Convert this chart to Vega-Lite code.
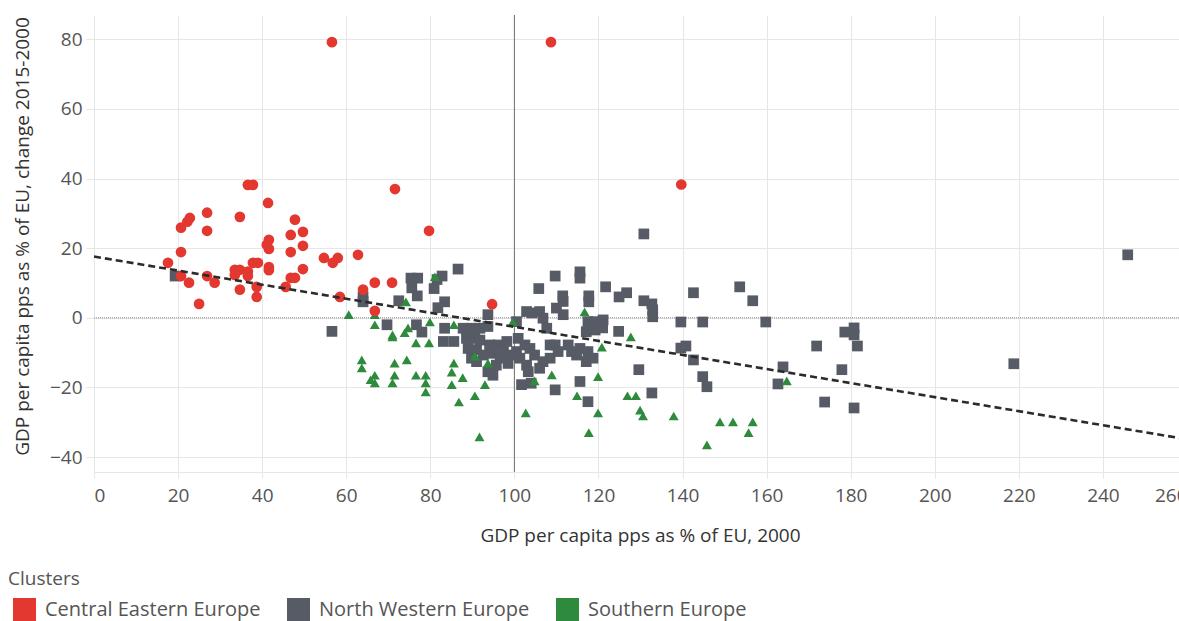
{
  "$schema": "https://vega.github.io/schema/vega-lite/v6.json",
  "width": 1085,
  "height": 457,
  "autosize": {"type": "none"},
  "padding": {"left": 94, "top": 15, "right": 0, "bottom": 149},
  "background": "white",
  "config": {
    "font": "Open Sans",
    "view": {"stroke": null}
  },
  "datasets": {
    "points": [
      {"cluster": "Central Eastern Europe", "gdp2000": 17.6, "change": 15.8},
      {"cluster": "Central Eastern Europe", "gdp2000": 20.7, "change": 25.9},
      {"cluster": "Central Eastern Europe", "gdp2000": 20.7, "change": 18.9},
      {"cluster": "Central Eastern Europe", "gdp2000": 20.7, "change": 12.0},
      {"cluster": "Central Eastern Europe", "gdp2000": 22.2, "change": 27.6},
      {"cluster": "Central Eastern Europe", "gdp2000": 22.8, "change": 28.7},
      {"cluster": "Central Eastern Europe", "gdp2000": 22.6, "change": 10.1},
      {"cluster": "Central Eastern Europe", "gdp2000": 25.0, "change": 4.0},
      {"cluster": "Central Eastern Europe", "gdp2000": 26.9, "change": 30.2},
      {"cluster": "Central Eastern Europe", "gdp2000": 26.9, "change": 25.0},
      {"cluster": "Central Eastern Europe", "gdp2000": 26.9, "change": 12.0},
      {"cluster": "Central Eastern Europe", "gdp2000": 28.7, "change": 10.1},
      {"cluster": "Central Eastern Europe", "gdp2000": 34.7, "change": 29.0},
      {"cluster": "Central Eastern Europe", "gdp2000": 33.5, "change": 13.8},
      {"cluster": "Central Eastern Europe", "gdp2000": 34.7, "change": 13.8},
      {"cluster": "Central Eastern Europe", "gdp2000": 33.5, "change": 12.3},
      {"cluster": "Central Eastern Europe", "gdp2000": 36.6, "change": 13.3},
      {"cluster": "Central Eastern Europe", "gdp2000": 36.6, "change": 12.0},
      {"cluster": "Central Eastern Europe", "gdp2000": 34.7, "change": 8.1},
      {"cluster": "Central Eastern Europe", "gdp2000": 36.6, "change": 38.2},
      {"cluster": "Central Eastern Europe", "gdp2000": 37.8, "change": 38.2},
      {"cluster": "Central Eastern Europe", "gdp2000": 37.8, "change": 15.8},
      {"cluster": "Central Eastern Europe", "gdp2000": 39.0, "change": 15.8},
      {"cluster": "Central Eastern Europe", "gdp2000": 38.7, "change": 8.9},
      {"cluster": "Central Eastern Europe", "gdp2000": 38.7, "change": 6.0},
      {"cluster": "Central Eastern Europe", "gdp2000": 41.4, "change": 33.0},
      {"cluster": "Central Eastern Europe", "gdp2000": 41.1, "change": 21.0},
      {"cluster": "Central Eastern Europe", "gdp2000": 41.6, "change": 22.4},
      {"cluster": "Central Eastern Europe", "gdp2000": 41.6, "change": 19.8},
      {"cluster": "Central Eastern Europe", "gdp2000": 41.6, "change": 14.6},
      {"cluster": "Central Eastern Europe", "gdp2000": 41.6, "change": 13.7},
      {"cluster": "Central Eastern Europe", "gdp2000": 45.6, "change": 8.9},
      {"cluster": "Central Eastern Europe", "gdp2000": 46.8, "change": 23.8},
      {"cluster": "Central Eastern Europe", "gdp2000": 46.8, "change": 18.9},
      {"cluster": "Central Eastern Europe", "gdp2000": 46.8, "change": 11.5},
      {"cluster": "Central Eastern Europe", "gdp2000": 47.8, "change": 11.5},
      {"cluster": "Central Eastern Europe", "gdp2000": 47.8, "change": 28.2},
      {"cluster": "Central Eastern Europe", "gdp2000": 49.7, "change": 24.7},
      {"cluster": "Central Eastern Europe", "gdp2000": 49.7, "change": 20.7},
      {"cluster": "Central Eastern Europe", "gdp2000": 49.7, "change": 14.0},
      {"cluster": "Central Eastern Europe", "gdp2000": 54.7, "change": 17.2},
      {"cluster": "Central Eastern Europe", "gdp2000": 56.8, "change": 15.8},
      {"cluster": "Central Eastern Europe", "gdp2000": 58.0, "change": 17.2},
      {"cluster": "Central Eastern Europe", "gdp2000": 58.5, "change": 6.0},
      {"cluster": "Central Eastern Europe", "gdp2000": 62.8, "change": 18.1},
      {"cluster": "Central Eastern Europe", "gdp2000": 64.0, "change": 8.1},
      {"cluster": "Central Eastern Europe", "gdp2000": 66.8, "change": 10.1},
      {"cluster": "Central Eastern Europe", "gdp2000": 66.8, "change": 2.0},
      {"cluster": "Central Eastern Europe", "gdp2000": 70.9, "change": 10.1},
      {"cluster": "Central Eastern Europe", "gdp2000": 71.6, "change": 37.0},
      {"cluster": "Central Eastern Europe", "gdp2000": 79.7, "change": 25.0},
      {"cluster": "Central Eastern Europe", "gdp2000": 94.7, "change": 3.9},
      {"cluster": "Central Eastern Europe", "gdp2000": 56.6, "change": 79.2},
      {"cluster": "Central Eastern Europe", "gdp2000": 108.7, "change": 79.2},
      {"cluster": "Central Eastern Europe", "gdp2000": 139.7, "change": 38.3},
      {"cluster": "North Western Europe", "gdp2000": 19.3, "change": 12.0},
      {"cluster": "North Western Europe", "gdp2000": 56.6, "change": -3.9},
      {"cluster": "North Western Europe", "gdp2000": 64.0, "change": 6.0},
      {"cluster": "North Western Europe", "gdp2000": 64.0, "change": 4.6},
      {"cluster": "North Western Europe", "gdp2000": 69.7, "change": -2.0},
      {"cluster": "North Western Europe", "gdp2000": 72.5, "change": 4.9},
      {"cluster": "North Western Europe", "gdp2000": 75.4, "change": 11.4},
      {"cluster": "North Western Europe", "gdp2000": 77.0, "change": 11.4},
      {"cluster": "North Western Europe", "gdp2000": 75.6, "change": 8.6},
      {"cluster": "North Western Europe", "gdp2000": 76.9, "change": 6.3},
      {"cluster": "North Western Europe", "gdp2000": 76.7, "change": -2.0},
      {"cluster": "North Western Europe", "gdp2000": 78.0, "change": -4.1},
      {"cluster": "North Western Europe", "gdp2000": 80.9, "change": 8.4},
      {"cluster": "North Western Europe", "gdp2000": 81.6, "change": 11.0},
      {"cluster": "North Western Europe", "gdp2000": 82.8, "change": 12.0},
      {"cluster": "North Western Europe", "gdp2000": 86.6, "change": 14.0},
      {"cluster": "North Western Europe", "gdp2000": 83.4, "change": 4.6},
      {"cluster": "North Western Europe", "gdp2000": 81.8, "change": 2.9},
      {"cluster": "North Western Europe", "gdp2000": 83.4, "change": -3.0},
      {"cluster": "North Western Europe", "gdp2000": 83.1, "change": -6.8},
      {"cluster": "North Western Europe", "gdp2000": 85.6, "change": -6.8},
      {"cluster": "North Western Europe", "gdp2000": 87.8, "change": -3.0},
      {"cluster": "North Western Europe", "gdp2000": 89.8, "change": -3.0},
      {"cluster": "North Western Europe", "gdp2000": 88.6, "change": -5.9},
      {"cluster": "North Western Europe", "gdp2000": 90.6, "change": -5.9},
      {"cluster": "North Western Europe", "gdp2000": 89.0, "change": -8.8},
      {"cluster": "North Western Europe", "gdp2000": 91.0, "change": -9.2},
      {"cluster": "North Western Europe", "gdp2000": 91.8, "change": -6.4},
      {"cluster": "North Western Europe", "gdp2000": 89.8, "change": -11.6},
      {"cluster": "North Western Europe", "gdp2000": 91.0, "change": -12.6},
      {"cluster": "North Western Europe", "gdp2000": 92.6, "change": -10.7},
      {"cluster": "North Western Europe", "gdp2000": 91.8, "change": -3.0},
      {"cluster": "North Western Europe", "gdp2000": 93.7, "change": -2.5},
      {"cluster": "North Western Europe", "gdp2000": 93.7, "change": 0.9},
      {"cluster": "North Western Europe", "gdp2000": 94.1, "change": -7.8},
      {"cluster": "North Western Europe", "gdp2000": 94.9, "change": -10.2},
      {"cluster": "North Western Europe", "gdp2000": 96.1, "change": -7.8},
      {"cluster": "North Western Europe", "gdp2000": 93.7, "change": -15.5},
      {"cluster": "North Western Europe", "gdp2000": 94.9, "change": -16.5},
      {"cluster": "North Western Europe", "gdp2000": 95.7, "change": -13.6},
      {"cluster": "North Western Europe", "gdp2000": 96.6, "change": -11.6},
      {"cluster": "North Western Europe", "gdp2000": 97.4, "change": -8.8},
      {"cluster": "North Western Europe", "gdp2000": 98.2, "change": -6.8},
      {"cluster": "North Western Europe", "gdp2000": 99.0, "change": -10.7},
      {"cluster": "North Western Europe", "gdp2000": 98.5, "change": -13.1},
      {"cluster": "North Western Europe", "gdp2000": 100.5, "change": -1.1},
      {"cluster": "North Western Europe", "gdp2000": 100.9, "change": -5.9},
      {"cluster": "North Western Europe", "gdp2000": 100.5, "change": -9.7},
      {"cluster": "North Western Europe", "gdp2000": 101.3, "change": -11.6},
      {"cluster": "North Western Europe", "gdp2000": 102.5, "change": -7.8},
      {"cluster": "North Western Europe", "gdp2000": 102.9, "change": -13.6},
      {"cluster": "North Western Europe", "gdp2000": 103.3, "change": -15.5},
      {"cluster": "North Western Europe", "gdp2000": 103.7, "change": -8.8},
      {"cluster": "North Western Europe", "gdp2000": 104.8, "change": -10.7},
      {"cluster": "North Western Europe", "gdp2000": 101.7, "change": -19.2},
      {"cluster": "North Western Europe", "gdp2000": 104.0, "change": -18.8},
      {"cluster": "North Western Europe", "gdp2000": 102.9, "change": 1.8},
      {"cluster": "North Western Europe", "gdp2000": 104.2, "change": 1.4},
      {"cluster": "North Western Europe", "gdp2000": 106.0, "change": 1.8},
      {"cluster": "North Western Europe", "gdp2000": 106.8, "change": -0.1},
      {"cluster": "North Western Europe", "gdp2000": 105.8, "change": 8.4},
      {"cluster": "North Western Europe", "gdp2000": 107.7, "change": -3.0},
      {"cluster": "North Western Europe", "gdp2000": 108.5, "change": -7.8},
      {"cluster": "North Western Europe", "gdp2000": 108.5, "change": -11.6},
      {"cluster": "North Western Europe", "gdp2000": 106.0, "change": -14.5},
      {"cluster": "North Western Europe", "gdp2000": 106.8, "change": -12.6},
      {"cluster": "North Western Europe", "gdp2000": 109.7, "change": -7.8},
      {"cluster": "North Western Europe", "gdp2000": 110.4, "change": -9.7},
      {"cluster": "North Western Europe", "gdp2000": 109.7, "change": -20.7},
      {"cluster": "North Western Europe", "gdp2000": 110.0, "change": 2.8},
      {"cluster": "North Western Europe", "gdp2000": 111.6, "change": 4.7},
      {"cluster": "North Western Europe", "gdp2000": 111.6, "change": 0.9},
      {"cluster": "North Western Europe", "gdp2000": 109.7, "change": 12.0},
      {"cluster": "North Western Europe", "gdp2000": 111.5, "change": 6.3},
      {"cluster": "North Western Europe", "gdp2000": 112.8, "change": -7.8},
      {"cluster": "North Western Europe", "gdp2000": 113.6, "change": -9.7},
      {"cluster": "North Western Europe", "gdp2000": 114.8, "change": -10.7},
      {"cluster": "North Western Europe", "gdp2000": 115.6, "change": -8.8},
      {"cluster": "North Western Europe", "gdp2000": 115.6, "change": 13.2},
      {"cluster": "North Western Europe", "gdp2000": 115.6, "change": 11.4},
      {"cluster": "North Western Europe", "gdp2000": 117.7, "change": 6.3},
      {"cluster": "North Western Europe", "gdp2000": 117.7, "change": 4.6},
      {"cluster": "North Western Europe", "gdp2000": 117.5, "change": -1.1},
      {"cluster": "North Western Europe", "gdp2000": 119.2, "change": -1.1},
      {"cluster": "North Western Europe", "gdp2000": 117.1, "change": -4.0},
      {"cluster": "North Western Europe", "gdp2000": 119.2, "change": -3.5},
      {"cluster": "North Western Europe", "gdp2000": 117.5, "change": -9.7},
      {"cluster": "North Western Europe", "gdp2000": 117.1, "change": -12.6},
      {"cluster": "North Western Europe", "gdp2000": 118.7, "change": -11.6},
      {"cluster": "North Western Europe", "gdp2000": 115.6, "change": -18.3},
      {"cluster": "North Western Europe", "gdp2000": 117.5, "change": -24.1},
      {"cluster": "North Western Europe", "gdp2000": 121.1, "change": -0.6},
      {"cluster": "North Western Europe", "gdp2000": 121.0, "change": -2.9},
      {"cluster": "North Western Europe", "gdp2000": 121.7, "change": 8.9},
      {"cluster": "North Western Europe", "gdp2000": 124.9, "change": 6.0},
      {"cluster": "North Western Europe", "gdp2000": 126.7, "change": 7.2},
      {"cluster": "North Western Europe", "gdp2000": 124.8, "change": -3.9},
      {"cluster": "North Western Europe", "gdp2000": 130.8, "change": 24.1},
      {"cluster": "North Western Europe", "gdp2000": 130.8, "change": 4.9},
      {"cluster": "North Western Europe", "gdp2000": 132.7, "change": 4.0},
      {"cluster": "North Western Europe", "gdp2000": 132.9, "change": 2.3},
      {"cluster": "North Western Europe", "gdp2000": 132.9, "change": 0.3},
      {"cluster": "North Western Europe", "gdp2000": 142.6, "change": 7.2},
      {"cluster": "North Western Europe", "gdp2000": 153.6, "change": 8.9},
      {"cluster": "North Western Europe", "gdp2000": 156.7, "change": 4.9},
      {"cluster": "North Western Europe", "gdp2000": 139.6, "change": -1.2},
      {"cluster": "North Western Europe", "gdp2000": 144.8, "change": -1.2},
      {"cluster": "North Western Europe", "gdp2000": 159.8, "change": -1.2},
      {"cluster": "North Western Europe", "gdp2000": 139.6, "change": -8.7},
      {"cluster": "North Western Europe", "gdp2000": 140.8, "change": -8.1},
      {"cluster": "North Western Europe", "gdp2000": 142.6, "change": -12.1},
      {"cluster": "North Western Europe", "gdp2000": 144.8, "change": -16.9},
      {"cluster": "North Western Europe", "gdp2000": 145.8, "change": -19.8},
      {"cluster": "North Western Europe", "gdp2000": 129.6, "change": -14.9},
      {"cluster": "North Western Europe", "gdp2000": 132.7, "change": -21.6},
      {"cluster": "North Western Europe", "gdp2000": 163.9, "change": -14.1},
      {"cluster": "North Western Europe", "gdp2000": 162.7, "change": -19.0},
      {"cluster": "North Western Europe", "gdp2000": 171.9, "change": -8.1},
      {"cluster": "North Western Europe", "gdp2000": 178.6, "change": -4.1},
      {"cluster": "North Western Europe", "gdp2000": 180.8, "change": -2.9},
      {"cluster": "North Western Europe", "gdp2000": 180.8, "change": -4.9},
      {"cluster": "North Western Europe", "gdp2000": 181.6, "change": -8.1},
      {"cluster": "North Western Europe", "gdp2000": 177.9, "change": -14.9},
      {"cluster": "North Western Europe", "gdp2000": 173.8, "change": -24.2},
      {"cluster": "North Western Europe", "gdp2000": 180.8, "change": -25.9},
      {"cluster": "North Western Europe", "gdp2000": 218.8, "change": -13.2},
      {"cluster": "North Western Europe", "gdp2000": 245.9, "change": 18.1},
      {"cluster": "Southern Europe", "gdp2000": 60.6, "change": 0.9},
      {"cluster": "Southern Europe", "gdp2000": 66.8, "change": 0.9},
      {"cluster": "Southern Europe", "gdp2000": 66.8, "change": -2.0},
      {"cluster": "Southern Europe", "gdp2000": 71.0, "change": -4.9},
      {"cluster": "Southern Europe", "gdp2000": 71.0, "change": -5.5},
      {"cluster": "Southern Europe", "gdp2000": 73.9, "change": -4.3},
      {"cluster": "Southern Europe", "gdp2000": 74.7, "change": -2.9},
      {"cluster": "Southern Europe", "gdp2000": 74.2, "change": 4.6},
      {"cluster": "Southern Europe", "gdp2000": 79.9, "change": -1.2},
      {"cluster": "Southern Europe", "gdp2000": 81.1, "change": 11.8},
      {"cluster": "Southern Europe", "gdp2000": 76.6, "change": -7.2},
      {"cluster": "Southern Europe", "gdp2000": 79.7, "change": -7.2},
      {"cluster": "Southern Europe", "gdp2000": 85.6, "change": -2.0},
      {"cluster": "Southern Europe", "gdp2000": 63.7, "change": -12.1},
      {"cluster": "Southern Europe", "gdp2000": 63.7, "change": -14.4},
      {"cluster": "Southern Europe", "gdp2000": 66.8, "change": -16.5},
      {"cluster": "Southern Europe", "gdp2000": 65.8, "change": -17.8},
      {"cluster": "Southern Europe", "gdp2000": 66.8, "change": -18.7},
      {"cluster": "Southern Europe", "gdp2000": 71.5, "change": -13.0},
      {"cluster": "Southern Europe", "gdp2000": 71.5, "change": -16.5},
      {"cluster": "Southern Europe", "gdp2000": 71.0, "change": -18.7},
      {"cluster": "Southern Europe", "gdp2000": 74.4, "change": -12.1},
      {"cluster": "Southern Europe", "gdp2000": 76.6, "change": -16.5},
      {"cluster": "Southern Europe", "gdp2000": 78.9, "change": -16.5},
      {"cluster": "Southern Europe", "gdp2000": 78.9, "change": -18.7},
      {"cluster": "Southern Europe", "gdp2000": 78.9, "change": -21.3},
      {"cluster": "Southern Europe", "gdp2000": 85.6, "change": -13.0},
      {"cluster": "Southern Europe", "gdp2000": 85.1, "change": -15.6},
      {"cluster": "Southern Europe", "gdp2000": 85.1, "change": -19.2},
      {"cluster": "Southern Europe", "gdp2000": 87.7, "change": -17.2},
      {"cluster": "Southern Europe", "gdp2000": 86.8, "change": -24.2},
      {"cluster": "Southern Europe", "gdp2000": 90.6, "change": -22.4},
      {"cluster": "Southern Europe", "gdp2000": 93.0, "change": -19.2},
      {"cluster": "Southern Europe", "gdp2000": 93.7, "change": -13.0},
      {"cluster": "Southern Europe", "gdp2000": 91.7, "change": -34.2},
      {"cluster": "Southern Europe", "gdp2000": 99.6, "change": -1.2},
      {"cluster": "Southern Europe", "gdp2000": 102.7, "change": -27.3},
      {"cluster": "Southern Europe", "gdp2000": 104.8, "change": -18.1},
      {"cluster": "Southern Europe", "gdp2000": 108.9, "change": -16.4},
      {"cluster": "Southern Europe", "gdp2000": 116.7, "change": 1.7},
      {"cluster": "Southern Europe", "gdp2000": 119.9, "change": -16.9},
      {"cluster": "Southern Europe", "gdp2000": 120.8, "change": -8.4},
      {"cluster": "Southern Europe", "gdp2000": 114.9, "change": -22.4},
      {"cluster": "Southern Europe", "gdp2000": 119.9, "change": -27.3},
      {"cluster": "Southern Europe", "gdp2000": 117.7, "change": -33.0},
      {"cluster": "Southern Europe", "gdp2000": 127.7, "change": -5.5},
      {"cluster": "Southern Europe", "gdp2000": 126.9, "change": -22.4},
      {"cluster": "Southern Europe", "gdp2000": 128.9, "change": -22.4},
      {"cluster": "Southern Europe", "gdp2000": 129.9, "change": -26.5},
      {"cluster": "Southern Europe", "gdp2000": 130.6, "change": -28.2},
      {"cluster": "Southern Europe", "gdp2000": 90.6, "change": -11.0},
      {"cluster": "Southern Europe", "gdp2000": 137.9, "change": -28.2},
      {"cluster": "Southern Europe", "gdp2000": 145.8, "change": -36.5},
      {"cluster": "Southern Europe", "gdp2000": 148.9, "change": -29.9},
      {"cluster": "Southern Europe", "gdp2000": 152.0, "change": -29.9},
      {"cluster": "Southern Europe", "gdp2000": 156.7, "change": -29.9},
      {"cluster": "Southern Europe", "gdp2000": 155.7, "change": -33.0},
      {"cluster": "Southern Europe", "gdp2000": 164.8, "change": -18.1}
    ],
    "trend": [
      {"gdp2000": 0, "change": 17.6},
      {"gdp2000": 260, "change": -34.9}
    ],
    "zeroLine": [{"change": 0}],
    "euLine": [{"gdp2000": 100}]
  },
  "encoding": {
    "x": {
      "field": "gdp2000",
      "type": "quantitative",
      "scale": {"domain": [0, 260], "range": [0, 1093], "nice": false, "zero": false},
      "axis": {
        "title": "GDP per capita pps as % of EU, 2000",
        "values": [0, 20, 40, 60, 80, 100, 120, 140, 160, 180, 200, 220, 240, 260],
        "grid": true,
        "gridColor": "#e6e6e6",
        "gridWidth": 1,
        "tickColor": "#e6e6e6",
        "tickSize": 6,
        "domainColor": "#e6e6e6",
        "labelFontSize": 19,
        "labelColor": "#555555",
        "labelPadding": 8,
        "labelFlush": true,
        "titleFontSize": 19,
        "titleFontWeight": "normal",
        "titleColor": "#333333",
        "titleX": 546,
        "titleY": 63,
        "titleAlign": "center",
        "titleBaseline": "middle"
      }
    },
    "y": {
      "field": "change",
      "type": "quantitative",
      "scale": {"domain": [-44.3, 87], "nice": false, "zero": false},
      "axis": {
        "title": "GDP per capita pps as % of EU, change 2015-2000",
        "values": [-40, -20, 0, 20, 40, 60, 80],
        "grid": true,
        "gridColor": "#e6e6e6",
        "gridWidth": 1,
        "tickColor": "#e6e6e6",
        "tickSize": 8,
        "domain": false,
        "labelFontSize": 19,
        "labelColor": "#555555",
        "labelPadding": 4,
        "titleFontSize": 19,
        "titleFontWeight": "normal",
        "titleColor": "#333333",
        "titleX": -72,
        "titleY": 221,
        "titleAngle": 270,
        "titleAlign": "center",
        "titleBaseline": "middle"
      }
    }
  },
  "layer": [
    {
      "data": {"name": "zeroLine"},
      "mark": {"type": "rule", "color": "#8a8a8a", "strokeWidth": 1, "strokeDash": [1, 1]},
      "encoding": {
        "x": null,
        "y": {"field": "change", "type": "quantitative"}
      }
    },
    {
      "data": {"name": "euLine"},
      "mark": {"type": "rule", "color": "#6e6e6e", "strokeWidth": 1},
      "encoding": {
        "y": null,
        "x": {"field": "gdp2000", "type": "quantitative"}
      }
    },
    {
      "data": {"name": "points"},
      "transform": [{"filter": "datum.cluster === 'North Western Europe'"}],
      "mark": {"type": "point", "shape": "square", "filled": true, "opacity": 1, "strokeWidth": 0, "size": 115},
      "encoding": {
        "color": {
          "field": "cluster",
          "type": "nominal",
          "title": "Clusters",
          "scale": {
            "domain": ["Central Eastern Europe", "North Western Europe", "Southern Europe"],
            "range": ["#e2382f", "#565b66", "#2e8b3d"]
          },
          "legend": {
            "orient": "none",
            "legendX": -86,
            "legendY": 555,
            "direction": "horizontal",
            "titleFontSize": 19,
            "titleFontWeight": "normal",
            "titleColor": "#555555",
            "titlePadding": 9,
            "labelFontSize": 20,
            "labelColor": "#555555",
            "labelLimit": 400,
            "symbolType": "square",
            "symbolSize": 529,
            "symbolStrokeWidth": 0,
            "symbolOpacity": 1,
            "symbolOffset": 5,
            "labelOffset": 9,
            "columnPadding": 21,
            "padding": 0
          }
        }
      }
    },
    {
      "data": {"name": "points"},
      "transform": [{"filter": "datum.cluster === 'Southern Europe'"}],
      "mark": {"type": "point", "shape": "triangle-up", "filled": true, "opacity": 1, "strokeWidth": 0, "size": 100},
      "encoding": {
        "color": {"field": "cluster", "type": "nominal", "title": "Clusters"}
      }
    },
    {
      "data": {"name": "points"},
      "transform": [{"filter": "datum.cluster === 'Central Eastern Europe'"}],
      "mark": {"type": "point", "shape": "circle", "filled": true, "opacity": 1, "strokeWidth": 0, "size": 115},
      "encoding": {
        "color": {"field": "cluster", "type": "nominal", "title": "Clusters"}
      }
    },
    {
      "data": {"name": "trend"},
      "mark": {"type": "line", "color": "#2b2b2b", "strokeWidth": 2.6, "strokeDash": [7, 4]},
      "encoding": {}
    }
  ]
}
